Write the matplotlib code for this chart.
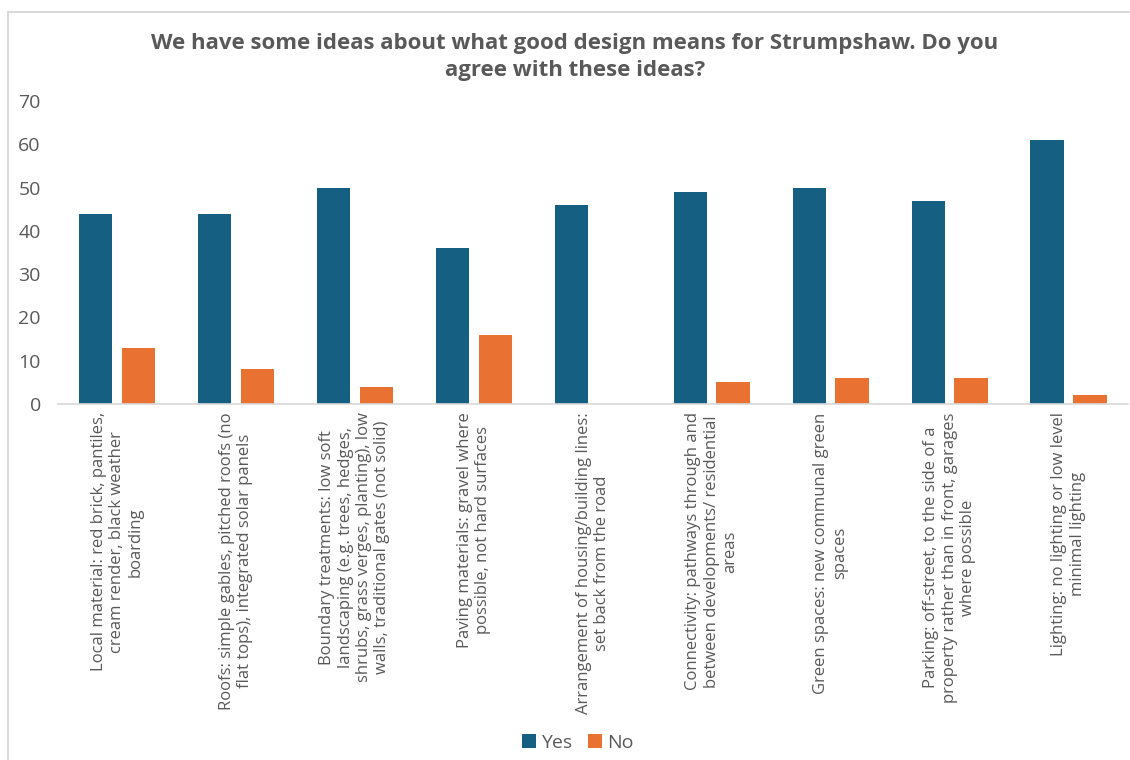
import matplotlib
matplotlib.use("Agg")
import matplotlib.pyplot as plt
import numpy as np
from matplotlib.patches import Rectangle

plt.rcParams['font.family'] = ['Open Sans', 'DejaVu Sans']

categories = [
    "Local material: red brick, pantiles,\ncream render, black weather\nboarding",
    "Roofs: simple gables, pitched roofs (no\nflat tops), integrated solar panels",
    "Boundary treatments: low soft\nlandscaping (e.g. trees, hedges,\nshrubs, grass verges, planting), low\nwalls, traditional gates (not solid)",
    "Paving materials: gravel where\npossible, not hard surfaces",
    "Arrangement of housing/building lines:\nset back from the road",
    "Connectivity: pathways through and\nbetween developments/ residential\nareas",
    "Green spaces: new communal green\nspaces",
    "Parking: off-street, to the side of a\nproperty rather than in front, garages\nwhere possible",
    "Lighting: no lighting or low level\nminimal lighting",
]
yes_values = [44, 44, 50, 36, 46, 49, 50, 47, 61]
no_values = [13, 8, 4, 16, 0, 5, 6, 6, 2]
series_names = ["Yes", "No"]
yticks = [0, 10, 20, 30, 40, 50, 60, 70]
title = "We have some ideas about what good design means for Strumpshaw. Do you\nagree with these ideas?"

BLUE = "#156082"
ORANGE = "#E97132"
GREY = "#595959"

fig = plt.figure(figsize=(11.3, 7.6), dpi=100)
W, H = 1130, 760
# outer chart border (partially visible)
fig.patches.append(Rectangle((8 / W, -0.1), 1.2, (760 - 12) / H + 0.1,
                             transform=fig.transFigure, fill=False,
                             edgecolor="#D9D9D9", linewidth=1.5))

left, right = 57.5, 1128
bottom, top = 404, 101
ax = fig.add_axes([left / W, 1 - bottom / H, (right - left) / W, (bottom - top) / H])

x = np.arange(len(categories))
bw = 0.28
off = 0.18
ax.bar(x - off, yes_values, bw, color=BLUE, label=series_names[0], zorder=2)
ax.bar(x + off, no_values, bw, color=ORANGE, label=series_names[1], zorder=2)

ax.set_xlim(-0.5, len(categories) - 0.5)
ax.set_ylim(0, 70)
ax.set_yticks(yticks)
ax.set_yticklabels([str(v) for v in yticks], fontsize=14, color=GREY)
ax.tick_params(axis='y', length=0, pad=12)
ax.set_xticks(x)
ax.set_xticklabels(categories, rotation=90, ha='center', va='top',
                   multialignment='center', fontsize=12, color=GREY,
                   linespacing=1.2)
ax.tick_params(axis='x', length=0, pad=6)
for s in ['top', 'right', 'left']:
    ax.spines[s].set_visible(False)
ax.spines['bottom'].set_color("#D9D9D9")
ax.spines['bottom'].set_linewidth(1.2)

fig.text(575 / W, 1 - 57 / H, title, ha='center', va='center', fontsize=16,
         fontweight='bold', color=GREY, linespacing=1.4)

leg = fig.legend(loc='center', bbox_to_anchor=(578 / W, 1 - 743 / H), ncol=2,
                 frameon=False, fontsize=14, handlelength=0.7, handleheight=0.7,
                 handletextpad=0.3, columnspacing=0.8)
for t in leg.get_texts():
    t.set_color(GREY)

fig.savefig("out.png", dpi=100)
